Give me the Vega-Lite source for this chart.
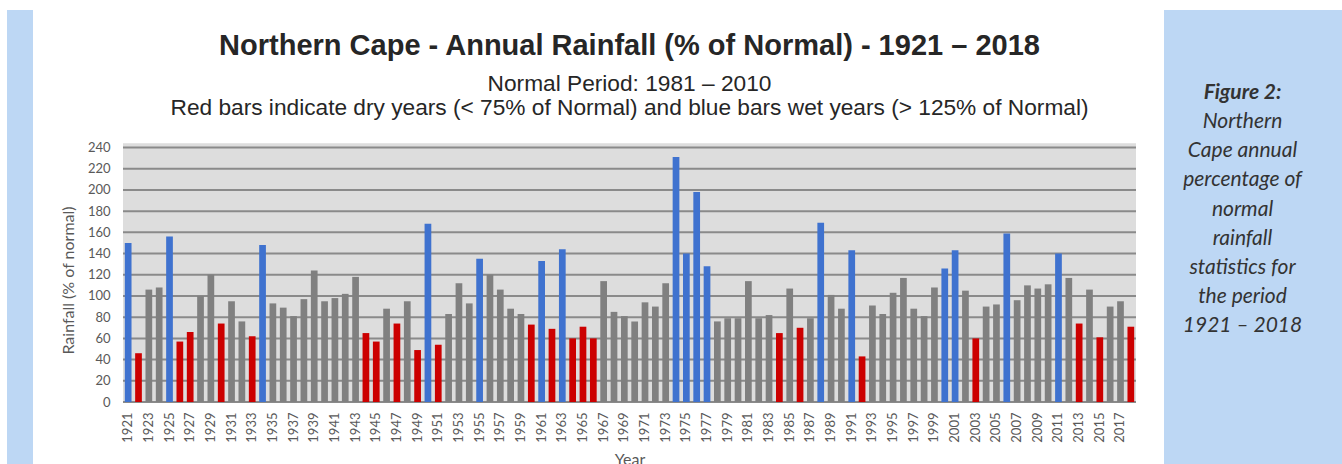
{
  "$schema": "https://vega.github.io/schema/vega-lite/v6.json",
  "background": "white",
  "padding": {"left": 7, "top": 10, "right": 0, "bottom": 0},
  "spacing": 27,
  "config": {
    "axis": {"labelOverlap": false},
    "axisY": {
      "values": [0,20,40,60,80,100,120,140,160,180,200,220,240],
      "labelOverlap": false,
      "labelFont": "Lato",
      "labelFontSize": 13,
      "labelColor": "#595959",
      "labelPadding": 13,
      "titleFont": "Lato",
      "titleFontSize": 16,
      "titleFontWeight": "normal",
      "titleColor": "#595959",
      "titlePadding": 11,
      "titleY": 270,
      "ticks": false,
      "domain": false,
      "grid": false
    }
  },
  "datasets": {
    "rain": [
      {"year": 1921, "pct": 150, "class": "wet"},
      {"year": 1922, "pct": 46, "class": "dry"},
      {"year": 1923, "pct": 106, "class": "normal"},
      {"year": 1924, "pct": 108, "class": "normal"},
      {"year": 1925, "pct": 156, "class": "wet"},
      {"year": 1926, "pct": 57, "class": "dry"},
      {"year": 1927, "pct": 66, "class": "dry"},
      {"year": 1928, "pct": 100, "class": "normal"},
      {"year": 1929, "pct": 120, "class": "normal"},
      {"year": 1930, "pct": 74, "class": "dry"},
      {"year": 1931, "pct": 95, "class": "normal"},
      {"year": 1932, "pct": 76, "class": "normal"},
      {"year": 1933, "pct": 62, "class": "dry"},
      {"year": 1934, "pct": 148, "class": "wet"},
      {"year": 1935, "pct": 93, "class": "normal"},
      {"year": 1936, "pct": 89, "class": "normal"},
      {"year": 1937, "pct": 81, "class": "normal"},
      {"year": 1938, "pct": 97, "class": "normal"},
      {"year": 1939, "pct": 124, "class": "normal"},
      {"year": 1940, "pct": 95, "class": "normal"},
      {"year": 1941, "pct": 98, "class": "normal"},
      {"year": 1942, "pct": 102, "class": "normal"},
      {"year": 1943, "pct": 118, "class": "normal"},
      {"year": 1944, "pct": 65, "class": "dry"},
      {"year": 1945, "pct": 57, "class": "dry"},
      {"year": 1946, "pct": 88, "class": "normal"},
      {"year": 1947, "pct": 74, "class": "dry"},
      {"year": 1948, "pct": 95, "class": "normal"},
      {"year": 1949, "pct": 49, "class": "dry"},
      {"year": 1950, "pct": 168, "class": "wet"},
      {"year": 1951, "pct": 54, "class": "dry"},
      {"year": 1952, "pct": 83, "class": "normal"},
      {"year": 1953, "pct": 112, "class": "normal"},
      {"year": 1954, "pct": 93, "class": "normal"},
      {"year": 1955, "pct": 135, "class": "wet"},
      {"year": 1956, "pct": 120, "class": "normal"},
      {"year": 1957, "pct": 106, "class": "normal"},
      {"year": 1958, "pct": 88, "class": "normal"},
      {"year": 1959, "pct": 83, "class": "normal"},
      {"year": 1960, "pct": 73, "class": "dry"},
      {"year": 1961, "pct": 133, "class": "wet"},
      {"year": 1962, "pct": 69, "class": "dry"},
      {"year": 1963, "pct": 144, "class": "wet"},
      {"year": 1964, "pct": 60, "class": "dry"},
      {"year": 1965, "pct": 71, "class": "dry"},
      {"year": 1966, "pct": 60, "class": "dry"},
      {"year": 1967, "pct": 114, "class": "normal"},
      {"year": 1968, "pct": 85, "class": "normal"},
      {"year": 1969, "pct": 81, "class": "normal"},
      {"year": 1970, "pct": 76, "class": "normal"},
      {"year": 1971, "pct": 94, "class": "normal"},
      {"year": 1972, "pct": 90, "class": "normal"},
      {"year": 1973, "pct": 112, "class": "normal"},
      {"year": 1974, "pct": 231, "class": "wet"},
      {"year": 1975, "pct": 140, "class": "wet"},
      {"year": 1976, "pct": 198, "class": "wet"},
      {"year": 1977, "pct": 128, "class": "wet"},
      {"year": 1978, "pct": 76, "class": "normal"},
      {"year": 1979, "pct": 79, "class": "normal"},
      {"year": 1980, "pct": 79, "class": "normal"},
      {"year": 1981, "pct": 114, "class": "normal"},
      {"year": 1982, "pct": 79, "class": "normal"},
      {"year": 1983, "pct": 82, "class": "normal"},
      {"year": 1984, "pct": 65, "class": "dry"},
      {"year": 1985, "pct": 107, "class": "normal"},
      {"year": 1986, "pct": 70, "class": "dry"},
      {"year": 1987, "pct": 79, "class": "normal"},
      {"year": 1988, "pct": 169, "class": "wet"},
      {"year": 1989, "pct": 101, "class": "normal"},
      {"year": 1990, "pct": 88, "class": "normal"},
      {"year": 1991, "pct": 143, "class": "wet"},
      {"year": 1992, "pct": 43, "class": "dry"},
      {"year": 1993, "pct": 91, "class": "normal"},
      {"year": 1994, "pct": 83, "class": "normal"},
      {"year": 1995, "pct": 103, "class": "normal"},
      {"year": 1996, "pct": 117, "class": "normal"},
      {"year": 1997, "pct": 88, "class": "normal"},
      {"year": 1998, "pct": 81, "class": "normal"},
      {"year": 1999, "pct": 108, "class": "normal"},
      {"year": 2000, "pct": 126, "class": "wet"},
      {"year": 2001, "pct": 143, "class": "wet"},
      {"year": 2002, "pct": 105, "class": "normal"},
      {"year": 2003, "pct": 60, "class": "dry"},
      {"year": 2004, "pct": 90, "class": "normal"},
      {"year": 2005, "pct": 92, "class": "normal"},
      {"year": 2006, "pct": 159, "class": "wet"},
      {"year": 2007, "pct": 96, "class": "normal"},
      {"year": 2008, "pct": 110, "class": "normal"},
      {"year": 2009, "pct": 107, "class": "normal"},
      {"year": 2010, "pct": 111, "class": "normal"},
      {"year": 2011, "pct": 140, "class": "wet"},
      {"year": 2012, "pct": 117, "class": "normal"},
      {"year": 2013, "pct": 74, "class": "dry"},
      {"year": 2014, "pct": 106, "class": "normal"},
      {"year": 2015, "pct": 61, "class": "dry"},
      {"year": 2016, "pct": 90, "class": "normal"},
      {"year": 2017, "pct": 95, "class": "normal"},
      {"year": 2018, "pct": 71, "class": "dry"}
    ],
    "grid": [
      {"v": 0}, {"v": 20}, {"v": 40}, {"v": 60}, {"v": 80}, {"v": 100}, {"v": 120},
      {"v": 140}, {"v": 160}, {"v": 180}, {"v": 200}, {"v": 220}, {"v": 240}
    ],
    "panel": [{"id": 1}]
  },
  "hconcat": [
    {
      "width": 26,
      "height": 460,
      "view": {"fill": "#bdd7f4", "stroke": null},
      "data": {"name": "panel"},
      "mark": {"type": "text", "text": ""}
    },
    {
      "width": 1013,
      "height": 392,
      "view": {"stroke": null},
      "title": {
        "text": "Northern Cape - Annual Rainfall (% of Normal) - 1921 – 2018",
        "subtitle": ["Normal Period: 1981 – 2010", "Red bars indicate dry years (< 75% of Normal) and blue bars wet years (> 125% of Normal)"],
        "font": "Liberation Sans",
        "fontSize": 29,
        "fontWeight": "bold",
        "color": "#262626",
        "subtitleFont": "Liberation Sans",
        "subtitleFontSize": 22.7,
        "subtitleColor": "#262626",
        "subtitleLineHeight": 24,
        "subtitlePadding": 12,
        "offset": -109.3,
        "anchor": "middle"
      },
      "layer": [
        {
          "data": {"name": "panel"},
          "mark": {"type": "rect", "color": "#dddddd"},
          "encoding": {
            "y": {"datum": 244, "type": "quantitative", "title": "Rainfall (% of normal)"},
            "y2": {"datum": 0}
          }
        },
        {
          "data": {"name": "grid"},
          "mark": {"type": "rule", "color": "#8a8a8a", "strokeWidth": 2},
          "encoding": {
            "y": {"field": "v", "type": "quantitative", "title": "Rainfall (% of normal)"}
          }
        },
        {
          "data": {"name": "rain"},
          "mark": {"type": "bar"},
          "encoding": {
            "x": {
              "field": "year",
              "type": "ordinal",
              "scale": {"paddingInner": 0.35, "paddingOuter": 0.175},
              "axis": {
                "values": [1921,1923,1925,1927,1929,1931,1933,1935,1937,1939,1941,1943,1945,1947,1949,1951,1953,1955,1957,1959,1961,1963,1965,1967,1969,1971,1973,1975,1977,1979,1981,1983,1985,1987,1989,1991,1993,1995,1997,1999,2001,2003,2005,2007,2009,2011,2013,2015,2017],
                "labelAngle": -90,
                "labelFont": "Lato",
                "labelFontSize": 13,
                "labelColor": "#595959",
                "labelPadding": 10,
                "labelOverlap": false,
                "ticks": false,
                "domain": false,
                "grid": false,
                "title": "Year",
                "titleFont": "Lato",
                "titleFontSize": 16,
                "titleFontWeight": "normal",
                "titleColor": "#595959",
                "titlePadding": 9
              }
            },
            "y": {
              "field": "pct",
              "type": "quantitative",
              "title": "Rainfall (% of normal)",
              "scale": {"domain": [0, 369.7], "nice": false, "zero": true},
              "axis": {
                "values": [0,20,40,60,80,100,120,140,160,180,200,220,240],
                "labelOverlap": false,
                "tickCount": 13
              }
            },
            "color": {
              "field": "class",
              "type": "nominal",
              "scale": {"domain": ["dry", "normal", "wet"], "range": ["#cc0000", "#808080", "#3f72cf"]},
              "legend": null
            }
          }
        }
      ]
    },
    {
      "width": 179,
      "height": 460,
      "view": {"fill": "#bdd7f4", "stroke": null},
      "data": {"name": "panel"},
      "layer": [
        {
          "mark": {"type": "text", "text": "Figure 2:", "font": "Lato", "fontSize": 21, "fontStyle": "italic", "fontWeight": "bold", "color": "#333333", "align": "center", "baseline": "middle", "dx": -11, "dy": -147}
        },
        {
          "mark": {"type": "text", "text": ["Northern", "Cape annual", "percentage of", "normal", "rainfall", "statistics for", "the period", "1921 – 2018"], "lineHeight": 29.2, "font": "Lato", "fontSize": 21, "fontStyle": "italic", "color": "#333333", "align": "center", "baseline": "top", "dx": -11, "dy": -129}
        }
      ]
    }
  ]
}
